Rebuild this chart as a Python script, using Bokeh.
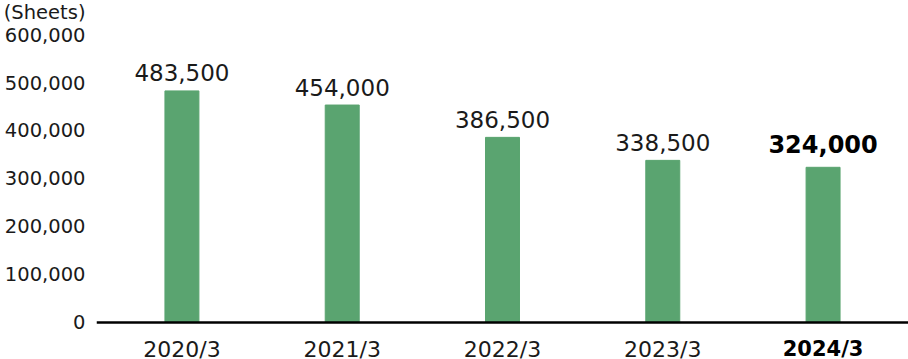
from bokeh.plotting import figure
from bokeh.models import FactorRange, Range1d, FixedTicker, NumeralTickFormatter, Span, ColumnDataSource
from bokeh.core.properties import value
from bokeh.embed import file_html
from bokeh.resources import INLINE

categories = ["2020/3", "2021/3", "2022/3", "2023/3", "2024/3"]
sheets = [483500, 454000, 386500, 338500, 324000]
y_ticks = [0, 100000, 200000, 300000, 400000, 500000, 600000]
unit_label = "(Sheets)"

FONT = "DejaVu Sans"
BAR = "#5aa470"
TXT = "#1a1a1a"
UNIT_POS = 652000  # layout position of the unit caption on the y axis

labels = [f"{v:,}" for v in sheets]
zeros = [0] * len(categories)
n = len(categories) - 1

src_all = ColumnDataSource(dict(cat=categories, val=sheets, lbl=labels, zero=zeros))
src_norm = ColumnDataSource(dict(cat=categories[:n], val=sheets[:n], lbl=labels[:n], zero=zeros[:n]))
src_bold = ColumnDataSource(dict(cat=categories[n:], val=sheets[n:], lbl=labels[n:], zero=zeros[n:]))

p = figure(width=908, height=359,
           x_range=FactorRange(*categories, range_padding=0.033, range_padding_units="absolute"),
           y_range=Range1d(-77250, 672250),
           output_backend="svg", toolbar_location=None,
           x_axis_location=None,
           min_border_left=96, min_border_right=0, min_border_top=0, min_border_bottom=0)
p.outline_line_color = None
p.grid.visible = False
p.background_fill_color = "white"
p.border_fill_color = "white"

ax = p.yaxis[0]
ax.ticker = FixedTicker(ticks=y_ticks + [UNIT_POS])
ax.formatter = NumeralTickFormatter(format="0,0")
ax.major_label_overrides = {UNIT_POS: unit_label}
ax.axis_line_color = None
ax.major_tick_line_color = None
ax.minor_tick_line_color = None
ax.major_tick_in = 0
ax.major_tick_out = 0
ax.major_label_standoff = 11
ax.major_label_text_font = FONT
ax.major_label_text_font_size = "19.5px"
ax.major_label_text_color = TXT

p.vbar(x="cat", top="val", bottom=0, width=0.212, source=src_all,
       fill_color=BAR, line_color=BAR)

p.add_layout(Span(location=0, dimension="width", line_color="black", line_width=2.5))

p.text(x="cat", y="val", text="lbl", source=src_norm, y_offset=-18,
       text_align="center", text_baseline="alphabetic",
       text_font=value(FONT), text_font_size="23px", text_color=TXT)
p.text(x="cat", y="val", text="lbl", source=src_bold, y_offset=-23,
       text_align="center", text_baseline="alphabetic",
       text_font=value(FONT), text_font_size="24px", text_font_style="bold", text_color="black")

p.text(x="cat", y="zero", text="cat", source=src_norm, y_offset=27,
       text_align="center", text_baseline="alphabetic",
       text_font=value(FONT), text_font_size="22px", text_color=TXT)
p.text(x="cat", y="zero", text="cat", source=src_bold, y_offset=27,
       text_align="center", text_baseline="alphabetic",
       text_font=value(FONT), text_font_size="21px", text_font_style="bold", text_color="black")

open("out.html", "w").write(file_html(p, INLINE))
